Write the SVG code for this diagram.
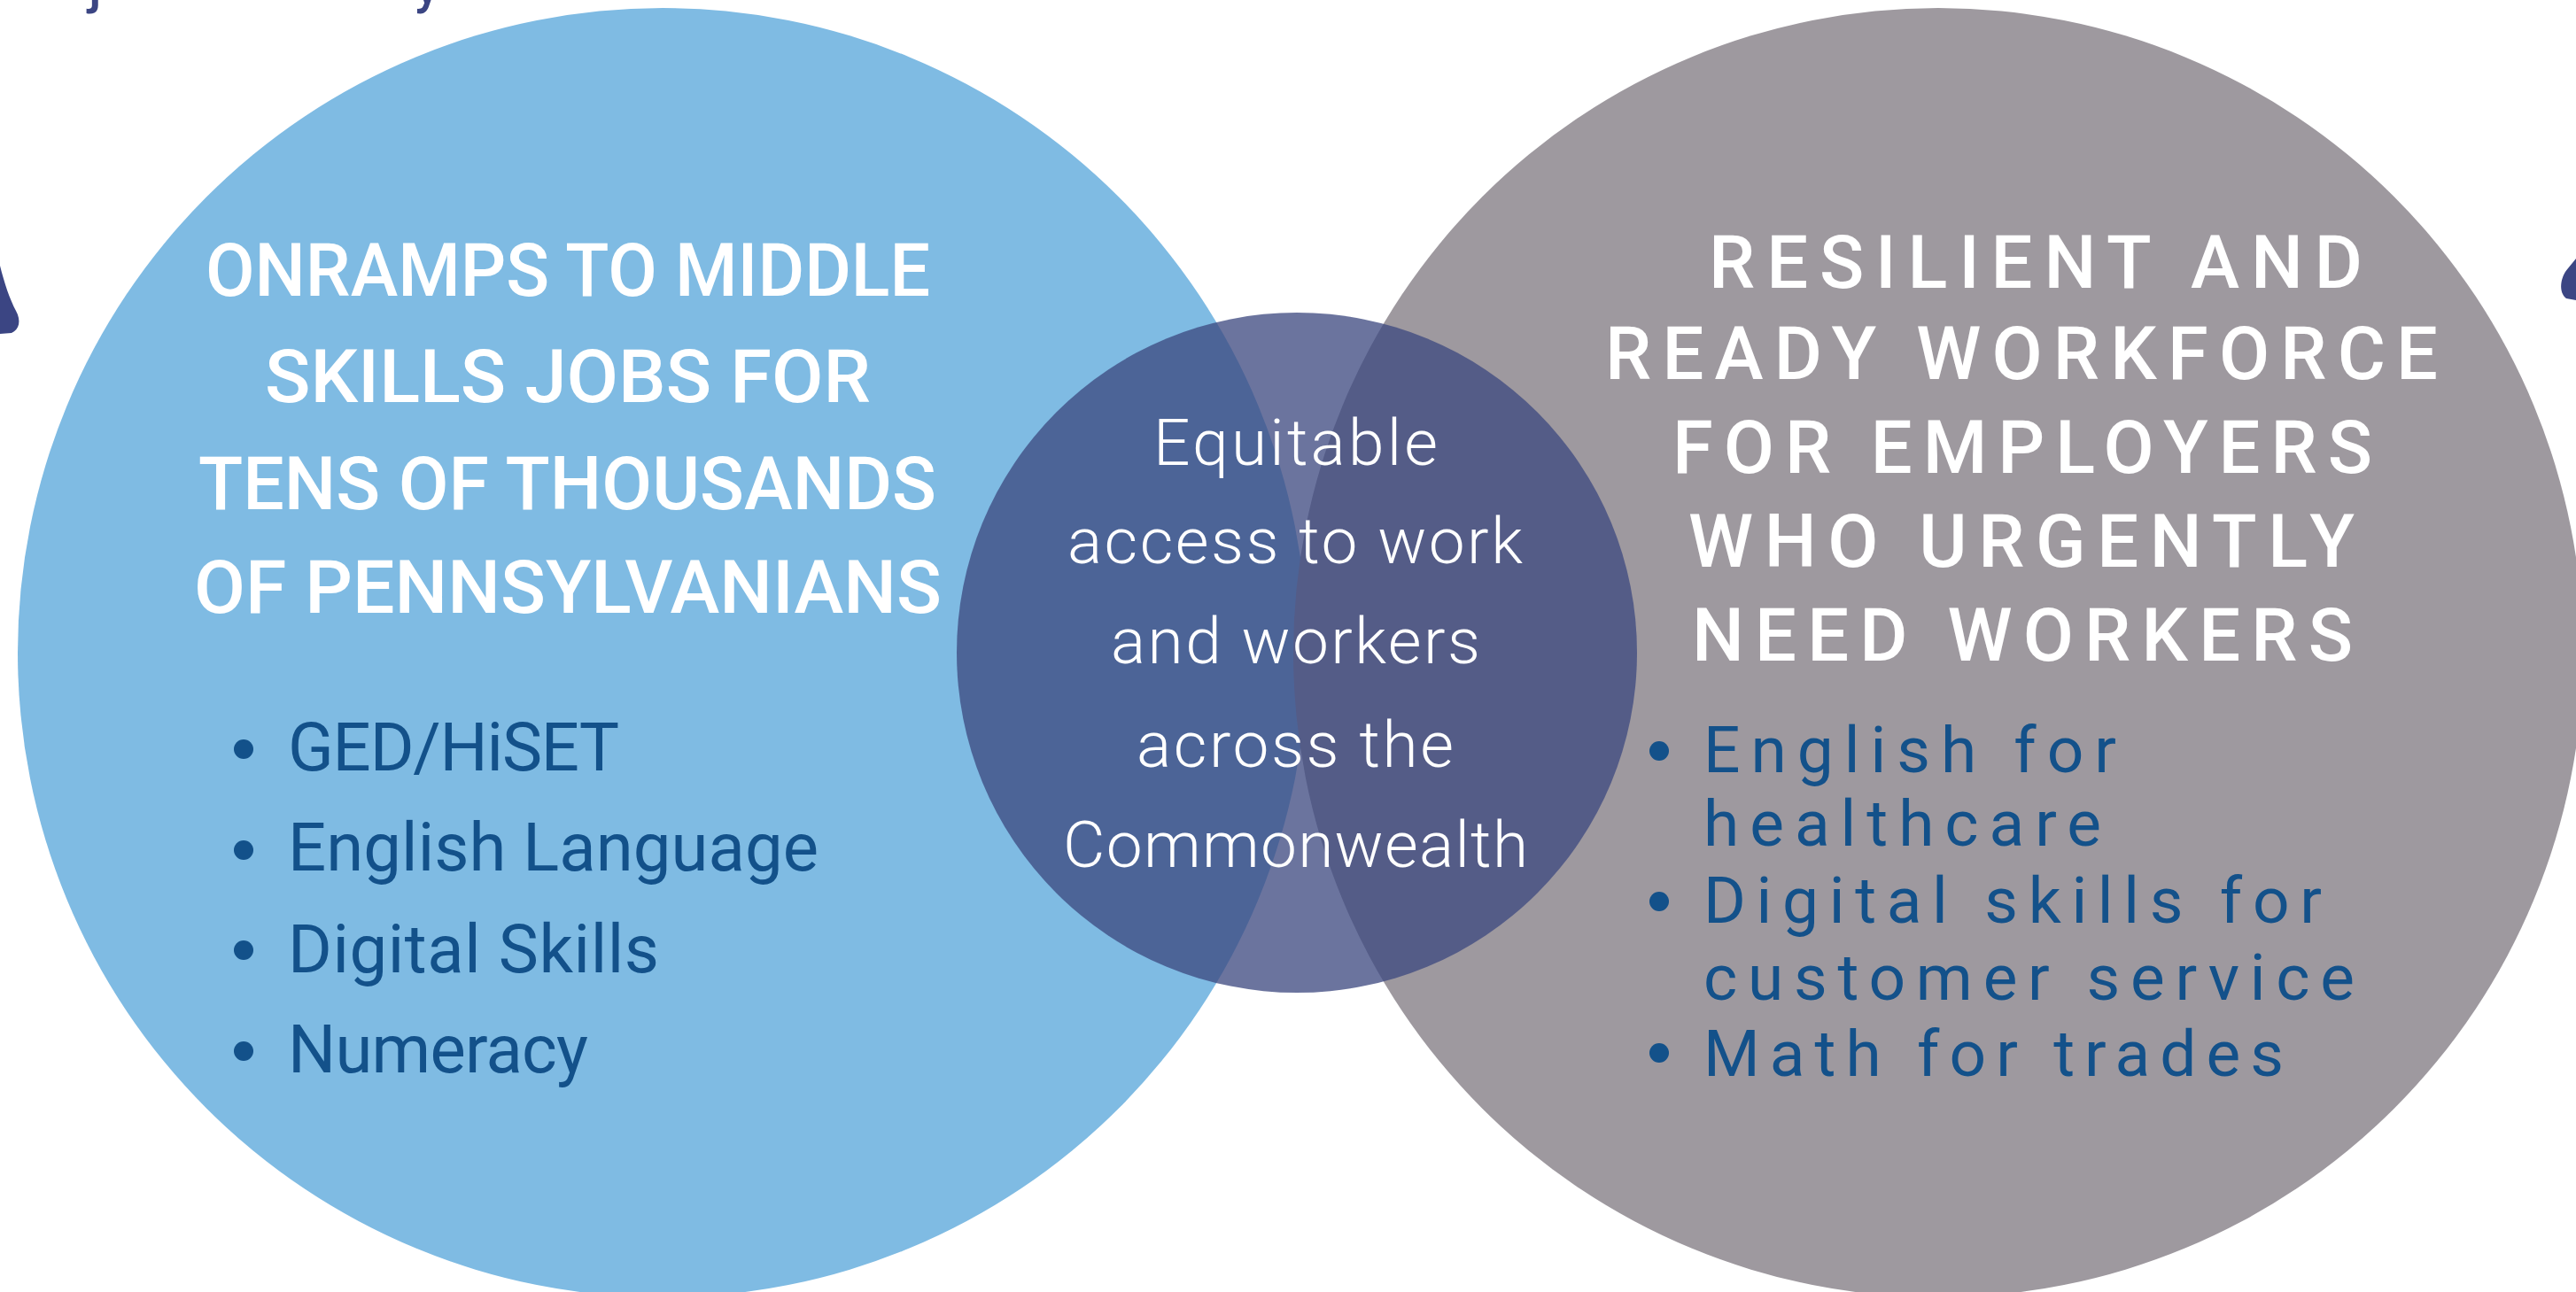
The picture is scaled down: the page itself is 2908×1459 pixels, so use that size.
<svg xmlns="http://www.w3.org/2000/svg" width="2908" height="1459" viewBox="0 0 2908 1459">
<style>
.title{font-family:Roboto,"Liberation Sans",sans-serif;font-weight:500;font-size:83px;fill:#ffffff}
.mid{font-family:Roboto,"Liberation Sans",sans-serif;font-weight:300;font-size:73px;fill:#ffffff}
.item{font-family:Roboto,"Liberation Sans",sans-serif;font-weight:400;font-size:76px;fill:#13518A}
.itemR{font-family:Roboto,"Liberation Sans",sans-serif;font-weight:400;font-size:73px;fill:#13518A}
.dot{fill:#13518A}
.dark{fill:#3B4583}
.top{font-family:Roboto,"Liberation Sans",sans-serif;font-weight:500;font-size:58px;fill:#3B4583}
</style>
<rect width="2908" height="1459" fill="#ffffff"/>
<g id="top-fragments">
<text class="top" x="100" y="3">j</text>
<text class="top" x="468" y="3">y</text>
<path class="dark" d="M0,300 C5,320 11,338 18,351 C24,362 22,372 13,376 L0,377 Z"/>
<path class="dark" d="M2908,292 L2899,303 C2890,313 2888,330 2897,337 L2908,339 Z"/>
</g>
<g id="node-left">
<circle cx="748" cy="737" r="728" fill="#7FBBE3"/>
</g>
<g id="node-right">
<circle cx="2188" cy="737" r="728" fill="#9E999F"/>
</g>
<g id="node-middle">
<circle cx="1464" cy="737" r="384" fill="#3C487F" fill-opacity="0.76"/>
</g>
<g id="connectors"></g>
<g id="left-text">
<text class="title" x="232" y="334" textLength="818" lengthAdjust="spacingAndGlyphs">ONRAMPS TO MIDDLE</text>
<text class="title" x="299" y="454" textLength="684" lengthAdjust="spacingAndGlyphs">SKILLS JOBS FOR</text>
<text class="title" x="224" y="575" textLength="833" lengthAdjust="spacingAndGlyphs">TENS OF THOUSANDS</text>
<text class="title" x="219" y="692" textLength="844" lengthAdjust="spacingAndGlyphs">OF PENNSYLVANIANS</text>
<circle class="dot" cx="275" cy="846" r="11"/>
<circle class="dot" cx="275" cy="960" r="11"/>
<circle class="dot" cx="275" cy="1073" r="11"/>
<circle class="dot" cx="275" cy="1187" r="11"/>
<text class="item" x="325" y="870" textLength="374" lengthAdjust="spacing">GED/HiSET</text>
<text class="item" x="325" y="983" textLength="599" lengthAdjust="spacing">English Language</text>
<text class="item" x="325" y="1098" textLength="419" lengthAdjust="spacing">Digital Skills</text>
<text class="item" x="325" y="1211" textLength="339" lengthAdjust="spacing">Numeracy</text>
</g>
<g id="middle-text">
<text class="mid" x="1302" y="525" textLength="321" lengthAdjust="spacing">Equitable</text>
<text class="mid" x="1205" y="636" textLength="514" lengthAdjust="spacing">access to work</text>
<text class="mid" x="1254" y="749" textLength="417" lengthAdjust="spacing">and workers</text>
<text class="mid" x="1283" y="866" textLength="358" lengthAdjust="spacing">across the</text>
<text class="mid" x="1200" y="979" textLength="525" lengthAdjust="spacing">Commonwealth</text>
</g>
<g id="right-text">
<text class="title" x="1929" y="325" textLength="738" lengthAdjust="spacing">RESILIENT AND</text>
<text class="title" x="1812" y="428" textLength="940" lengthAdjust="spacing">READY WORKFORCE</text>
<text class="title" x="1888" y="534" textLength="790" lengthAdjust="spacing">FOR EMPLOYERS</text>
<text class="title" x="1906" y="640" textLength="752" lengthAdjust="spacing">WHO URGENTLY</text>
<text class="title" x="1910" y="746" textLength="746" lengthAdjust="spacing">NEED WORKERS</text>
<circle class="dot" cx="1873" cy="848" r="11"/>
<circle class="dot" cx="1873" cy="1018" r="11"/>
<circle class="dot" cx="1873" cy="1189" r="11"/>
<text class="itemR" x="1923" y="872" textLength="466" lengthAdjust="spacing">English for</text>
<text class="itemR" x="1923" y="955" textLength="449" lengthAdjust="spacing">healthcare</text>
<text class="itemR" x="1923" y="1042" textLength="698" lengthAdjust="spacing">Digital skills for</text>
<text class="itemR" x="1923" y="1129" textLength="735" lengthAdjust="spacing">customer service</text>
<text class="itemR" x="1923" y="1215" textLength="655" lengthAdjust="spacing">Math for trades</text>
</g>
</svg>
